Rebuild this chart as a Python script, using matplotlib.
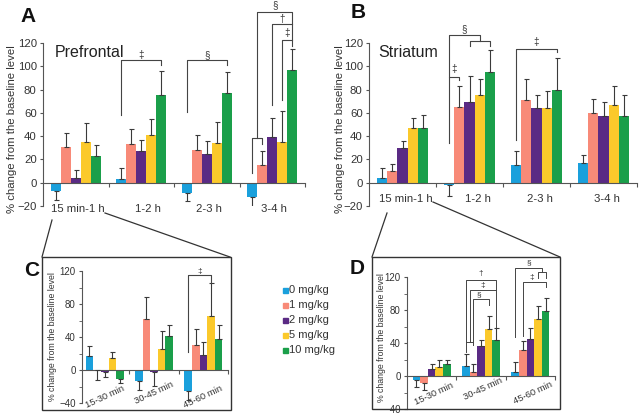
import matplotlib
matplotlib.use("Agg")
import matplotlib.pyplot as plt
from matplotlib.patches import Rectangle
from matplotlib.lines import Line2D
import numpy as np

plt.rcParams['font.family'] = ['Liberation Sans', 'DejaVu Sans']

doses = ['0 mg/kg', '1 mg/kg', '2 mg/kg', '5 mg/kg', '10 mg/kg']
colors = ['#1aa0dc', '#f88a78', '#5a2a84', '#fbc92b', '#1a9f4a']

hour_labels = ['15 min-1 h', '1-2 h', '2-3 h', '3-4 h']
min_labels = ['15-30 min', '30-45 min', '45-60 min']

# Panel A: Prefrontal (rows = doses, cols = time bins)
pf_mean = [[-7, 3, -9, -12],
           [31, 33, 28, 15],
           [4, 27, 25, 39],
           [35, 41, 34, 35],
           [23, 75, 77, 97]]
pf_err = [[8, 10, 7, 10],
          [12, 13, 13, 12],
          [7, 10, 11, 17],
          [16, 14, 18, 27],
          [9, 21, 18, 18]]

# Panel B: Striatum
st_mean = [[4, -2, 15, 17],
           [10, 65, 71, 60],
           [30, 69, 64, 57],
           [47, 75, 64, 67],
           [47, 95, 80, 57]]
st_err = [[9, 9, 12, 7],
          [6, 18, 18, 12],
          [6, 23, 11, 12],
          [9, 14, 15, 16],
          [11, 19, 27, 18]]

# Panel C: Prefrontal, 15 min - 1 h detail
pfc_mean = [[17, -13, -25],
            [-0.5, 62, 30],
            [-3, -3, 18],
            [15, 26, 65],
            [-11, 41, 38]]
pfc_err = [[12, 11, 11],
           [11.5, 27, 20],
           [6, 16, 16],
           [7, 21, 40],
           [5, 14, 16]]

# Panel D: Striatum, 15 min - 1 h detail
std_mean = [[-5, 12, 5],
            [-9, 5, 32],
            [8, 36, 45],
            [11, 57, 69],
            [14, 44, 79]]
std_err = [[8, 15, 12],
           [8, 10, 11],
           [6, 8, 13],
           [8, 16, 16],
           [5, 14, 15]]

W, H = 640, 420
fig = plt.figure(figsize=(6.4, 4.2), dpi=100)

def px_axes(l, r, t, b):
    return fig.add_axes([l / W, 1 - b / H, (r - l) / W, (b - t) / H])

TXT = '#333333'
LC = '#555555'

def draw_bars(ax, means, errs, w):
    n = len(means[0])
    idx = np.arange(n)
    for k in range(5):
        m = np.array(means[k], dtype=float)
        e = np.array(errs[k], dtype=float)
        x = idx + (k - 2) * w
        ax.bar(x, m, w, color=colors[k], zorder=2)
        lower = np.where(m < 0, e, 0)
        upper = np.where(m >= 0, e, 0)
        ax.errorbar(x, m, yerr=[lower, upper], fmt='none', ecolor='#3a3a3a',
                    elinewidth=0.8, capsize=1.8, capthick=0.8, zorder=3)

def style_axes(ax, ylim, major, minor, nbins, fs):
    ax.set_ylim(*ylim)
    for s in ['top', 'right']:
        ax.spines[s].set_visible(False)
    ax.spines['bottom'].set_position(('data', 0))
    ax.spines['bottom'].set_color(LC)
    ax.spines['left'].set_color(LC)
    ax.spines['bottom'].set_linewidth(0.8)
    ax.spines['left'].set_linewidth(0.8)
    ax.set_yticks(major)
    if minor is not None:
        ax.set_yticks(minor, minor=True)
    ax.set_xticks([i + 0.5 for i in range(nbins)])
    ax.set_xticklabels([])
    ax.tick_params(axis='y', which='both', direction='out', length=2.5,
                   color=LC, labelsize=fs, labelcolor=TXT, pad=2)
    ax.tick_params(axis='y', which='minor', length=2)
    ax.tick_params(axis='x', direction='out', length=3, color=LC)
    ax.patch.set_alpha(0)

def bracket(ax, pts, lw=0.8):
    xs, ys = zip(*pts)
    ax.add_line(Line2D(xs, ys, color='#444444', lw=lw, clip_on=False, zorder=4))

def sym(ax, x, y, s, fs=7):
    ax.text(x, y, s, ha='center', va='center', fontsize=fs, color=TXT, clip_on=False)

# ---------------- Panel A ----------------
wA = 0.153
axA = px_axes(43, 305, 43, 206)
draw_bars(axA, pf_mean, pf_err, wA)
axA.set_xlim(-0.5, 3.5)
style_axes(axA, (-20, 120), np.arange(-20, 121, 20), None, 4, 8.2)
axA.set_ylabel('% change from the baseline level', fontsize=8.2, color=TXT)
axA.yaxis.set_label_coords(-0.1, 0.47)
for i, lab in enumerate(hour_labels):
    axA.text(i + (0.1 if i == 1 else 0.03), -22.5, lab, ha='center', va='center',
             fontsize=8.2, color=TXT, clip_on=False)
axA.text(-0.32, 112, 'Prefrontal', fontsize=11.5, color='#222222', va='center')

xa = lambda g, k: g + (k - 2) * wA
bracket(axA, [(xa(1, 0), 58), (xa(1, 0), 105), (xa(1, 4), 105), (xa(1, 4), 101)])
sym(axA, 1.0, 110, '‡')
bracket(axA, [(xa(2, 0), 61), (xa(2, 0), 105), (xa(2, 4), 105), (xa(2, 4), 101)])
sym(axA, 2.0, 110, '§')
midA = (xa(3, 0) + xa(3, 1)) / 2
bracket(axA, [(xa(3, 0), 8), (xa(3, 0), 38.6), (xa(3, 1), 38.6), (xa(3, 1), 33)])
bracket(axA, [(midA, 38.6), (midA, 146.6), (xa(3, 4), 146.6), (xa(3, 4), 117)])
sym(axA, (midA + xa(3, 4)) / 2, 152.5, '§')
bracket(axA, [(xa(3, 2), 67), (xa(3, 2), 136), (xa(3, 4), 136)])
sym(axA, (xa(3, 2) + xa(3, 4)) / 2, 141, '†')
bracket(axA, [(xa(3, 3), 71), (xa(3, 3), 123), (xa(3, 4), 123)])
sym(axA, (xa(3, 3) + xa(3, 4)) / 2, 129, '‡')

# ---------------- Panel B ----------------
axB = px_axes(369, 637, 43, 206)
draw_bars(axB, st_mean, st_err, wA)
axB.set_xlim(-0.5, 3.5)
style_axes(axB, (-20, 120), np.arange(-20, 121, 20), None, 4, 8.2)
axB.set_ylabel('% change from the baseline level', fontsize=8.2, color=TXT)
axB.yaxis.set_label_coords(-0.09, 0.47)
for i, lab in enumerate(hour_labels):
    axB.text(i + (0.12 if i == 1 else 0.05), -14, lab, ha='center', va='center',
             fontsize=8.2, color=TXT, clip_on=False)
axB.text(-0.36, 112, 'Striatum', fontsize=11.5, color='#222222', va='center')

midB = (xa(1, 0) + xa(1, 1)) / 2
bracket(axB, [(xa(1, 0), 34), (xa(1, 0), 91), (xa(1, 1), 91), (xa(1, 1), 88)])
sym(axB, midB, 97.5, '‡')
bracket(axB, [(xa(1, 2), 117), (xa(1, 2), 122), (xa(1, 4), 122), (xa(1, 4), 117)])
bracket(axB, [(xa(1, 0), 91), (xa(1, 0), 126.5), (xa(1, 3), 126.5), (xa(1, 3), 122)])
sym(axB, (xa(1, 0) + xa(1, 3)) / 2, 132, '§')
bracket(axB, [(xa(2, 0), 37), (xa(2, 0), 115), (xa(2, 4), 115), (xa(2, 4), 112)])
sym(axB, 2.0, 120.5, '‡')

# ---------------- Panel C ----------------
wC = 0.155
axC = px_axes(82, 228, 271, 403)
draw_bars(axC, pfc_mean, pfc_err, wC)
axC.set_xlim(-0.46, 2.5)
style_axes(axC, (-40, 120), np.arange(-40, 121, 40), np.arange(-40, 121, 20), 3, 7)
axC.set_ylabel('% change from the baseline level', fontsize=6.3, color=TXT)
axC.yaxis.set_label_coords(-0.171, 0.5)
c_lab_y = [-32, -28, -32]
for i, lab in enumerate(min_labels):
    axC.text(i, c_lab_y[i], lab, ha='center', va='center', rotation=25,
             fontsize=6.8, color=TXT, clip_on=False)
xc = lambda g, k: g + (k - 2) * wC
bracket(axC, [(xc(2, 0), 22), (xc(2, 0), 115), (xc(2, 3), 115), (xc(2, 3), 105)])
sym(axC, (xc(2, 0) + xc(2, 3)) / 2, 119.5, '‡', fs=6)

# ---------------- Panel D ----------------
axD = px_axes(407, 555, 277, 409)
draw_bars(axD, std_mean, std_err, wC)
axD.set_xlim(-0.5, 2.5)
style_axes(axD, (-40, 120), np.arange(-40, 121, 40), np.arange(-40, 121, 20), 3, 7)
axD.set_ylabel('% change from the baseline level', fontsize=6.3, color=TXT)
axD.yaxis.set_label_coords(-0.142, 0.54)
d_lab_y = [-22, -15, -20]
for i, lab in enumerate(min_labels):
    axD.text(i + 0.05, d_lab_y[i], lab, ha='center', va='center', rotation=25,
             fontsize=6.8, color=TXT, clip_on=False)
mD = (xc(1, 0) + xc(1, 1)) / 2
bracket(axD, [(xc(1, 0), 29), (xc(1, 0), 41), (xc(1, 1), 41), (xc(1, 1), 37.6)], lw=0.7)
bracket(axD, [(xc(1, 0), 41), (xc(1, 0), 116), (xc(1, 4), 116), (xc(1, 4), 60)], lw=0.7)
sym(axD, (xc(1, 0) + xc(1, 4)) / 2, 124, '†', fs=6)
bracket(axD, [(mD, 41), (mD, 104), (xc(1, 4), 104)], lw=0.7)
sym(axD, (mD + xc(1, 4)) / 2, 109.5, '‡', fs=6)
bracket(axD, [(xc(1, 1), 41), (xc(1, 1), 93), (xc(1, 3), 93), (xc(1, 3), 86)], lw=0.7)
sym(axD, (xc(1, 1) + xc(1, 3)) / 2 - 0.05, 98, '§', fs=6)
mD2 = (xc(2, 3) + xc(2, 4)) / 2
bracket(axD, [(xc(2, 3), 119), (xc(2, 3), 126), (xc(2, 4), 126), (xc(2, 4), 119)], lw=0.7)
bracket(axD, [(xc(2, 0), 47), (xc(2, 0), 131), (mD2, 131), (mD2, 126)], lw=0.7)
sym(axD, (xc(2, 0) + mD2) / 2, 137, '§', fs=6)
bracket(axD, [(xc(2, 1), 48), (xc(2, 1), 114), (xc(2, 4), 114), (xc(2, 4), 108)], lw=0.7)
sym(axD, (xc(2, 1) + xc(2, 4)) / 2 - 0.05, 119.5, '‡', fs=6)

# ---------------- Frames, connectors, legend, labels ----------------
def fig_rect(l, t, r, b):
    fig.patches.append(Rectangle((l / W, 1 - b / H), (r - l) / W, (b - t) / H,
                                 transform=fig.transFigure, fill=False,
                                 edgecolor='#333333', lw=1.0))

def fig_line(x1, y1, x2, y2):
    fig.add_artist(Line2D([x1 / W, x2 / W], [1 - y1 / H, 1 - y2 / H],
                          transform=fig.transFigure, color='#333333', lw=0.9))

fig_rect(42, 257, 231, 410)
fig_rect(372, 257, 560, 409)
fig_line(52, 220, 42, 257)
fig_line(105, 213, 230, 257)
fig_line(387, 213, 372, 257)
fig_line(433, 202, 560, 257)

for k, lab in enumerate(doses):
    y = 290 + 15 * k
    fig.patches.append(Rectangle((283 / W, 1 - (y + 2.5) / H), 5 / W, 5 / H,
                                 transform=fig.transFigure, color=colors[k]))
    fig.text(289 / W, 1 - y / H, lab, fontsize=8, color=TXT, va='center', ha='left')

for lab, x, y in [('A', 28, 16), ('B', 358, 13), ('C', 32, 270), ('D', 357, 268)]:
    fig.text(x / W, 1 - y / H, lab, fontsize=15, fontweight='bold', color='#111111',
             ha='center', va='center')

fig.savefig('out.png', dpi=100)
